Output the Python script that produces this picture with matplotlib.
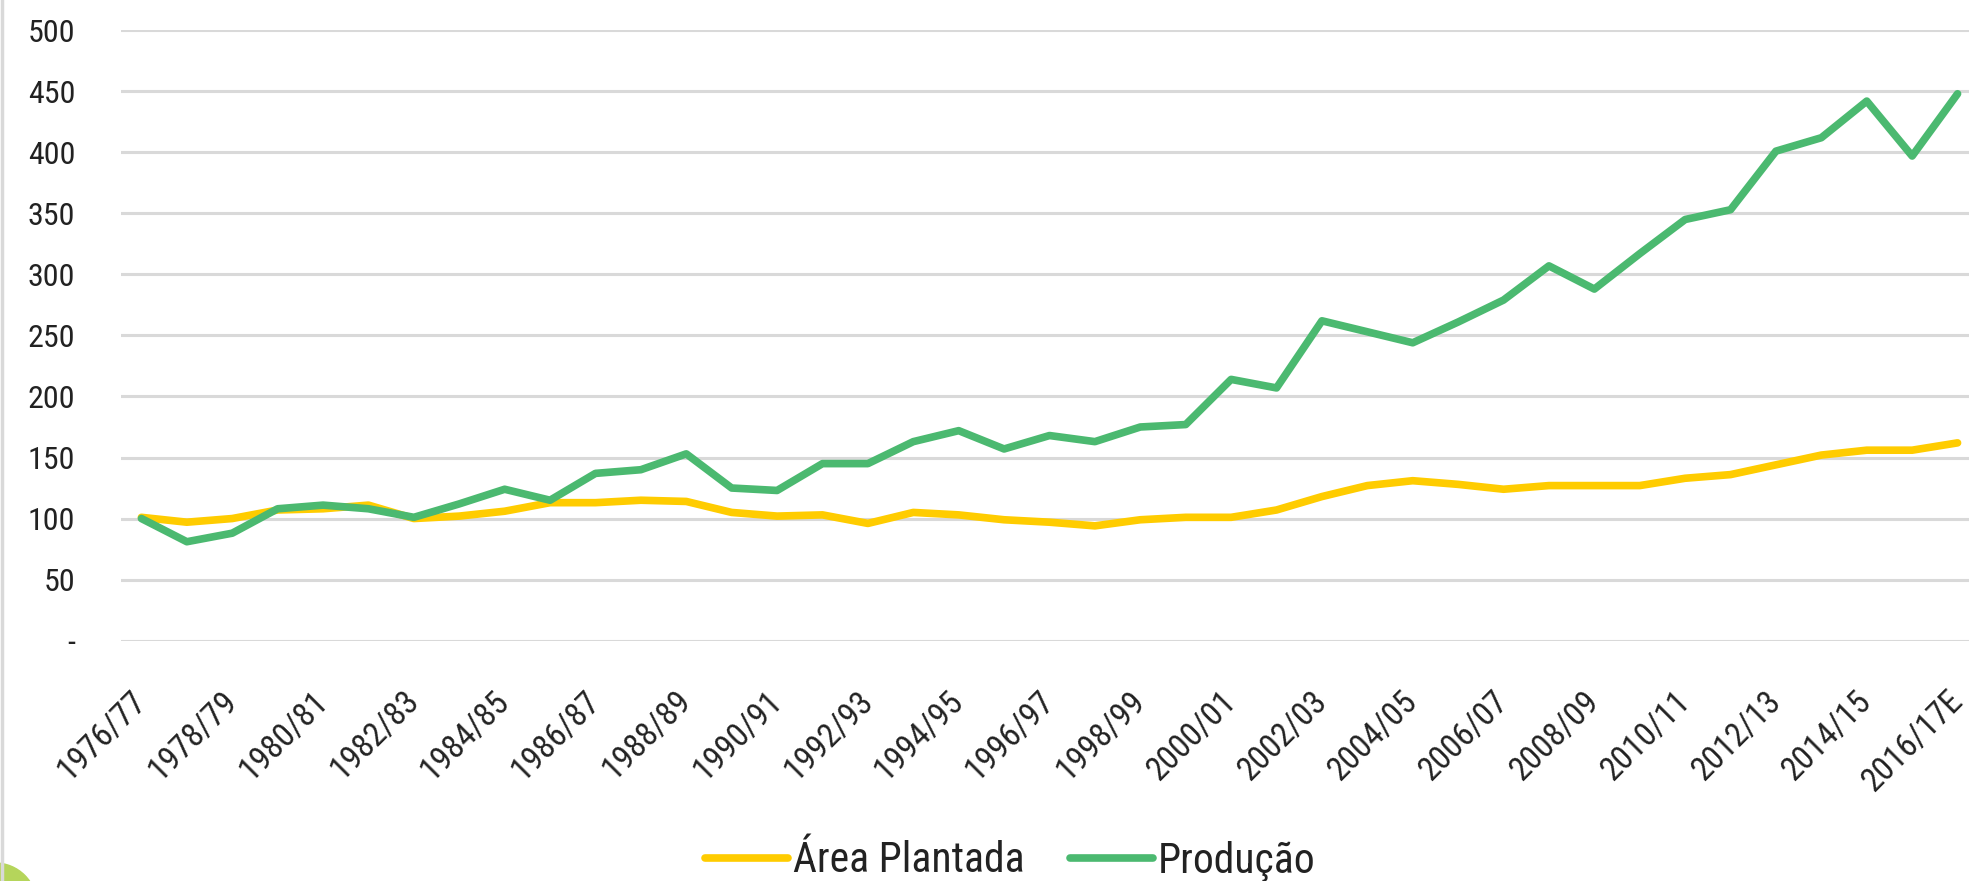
import matplotlib
matplotlib.use("Agg")
import matplotlib.pyplot as plt
from matplotlib import font_manager as fm
from matplotlib.lines import Line2D
from matplotlib.patches import Circle

# fonte estreita se houver, senão Roboto
installed = {f.name for f in fm.fontManager.ttflist}
family = [f for f in ['Roboto Condensed', 'Liberation Sans Narrow'] if f in installed] + ['Roboto', 'DejaVu Sans']
plt.rcParams['font.family'] = family

# Safras 1976/77 .. 2016/17E (índice, base 1976/77 = 100)
safras = [f"{y}/{str(y + 1)[-2:]}" for y in range(1976, 2016)] + ["2016/17E"]

area_plantada = [101, 97, 100, 107, 108, 111, 100, 102, 106, 113,
                 113, 115, 114, 105, 102, 103, 96, 105, 103, 99,
                 97, 94, 99, 101, 101, 107, 118, 127, 131, 128,
                 124, 127, 127, 127, 133, 136, 144, 152, 156, 156,
                 162]
producao = [100, 81, 88, 108, 111, 108, 101, 112, 124, 115,
            137, 140, 153, 125, 123, 145, 145, 163, 172, 157,
            168, 163, 175, 177, 214, 207, 262, 253, 244, 261,
            279, 307, 288, 317, 345, 353, 401, 412, 442, 397,
            448]

yticks = [0, 50, 100, 150, 200, 250, 300, 350, 400, 450, 500]
ytick_labels = ["-"] + [str(v) for v in yticks[1:]]

YELLOW = "#FFCC00"
GREEN = "#4BB970"
GRID = "#D9D9D9"
TXT = "#222222"

fig = plt.figure(figsize=(19.69, 8.81), dpi=100)
ax = fig.add_axes([121 / 1969, 1 - 640.6 / 881, (1978 - 121) / 1969, 610.3 / 881])

x = list(range(len(safras)))
ax.plot(x, area_plantada, color=YELLOW, lw=5.5, solid_capstyle='round', solid_joinstyle='round', zorder=3)
ax.plot(x, producao, color=GREEN, lw=5.5, solid_capstyle='round', solid_joinstyle='round', zorder=4)

ax.set_xlim(-0.45, len(safras) - 0.55)
ax.set_ylim(0, 500)
ax.set_yticks(yticks)
ax.set_yticklabels(ytick_labels)
ax.yaxis.grid(True, color=GRID, lw=2.2)
ax.set_axisbelow(True)
for s in ax.spines.values():
    s.set_visible(False)
ax.tick_params(axis='y', length=0, pad=33, labelsize=23, labelcolor=TXT)

ax.set_xticks(x[::2])
ax.set_xticklabels(safras[::2], rotation=45, ha='right', va='center', rotation_mode='anchor')
ax.tick_params(axis='x', length=0, pad=40, labelsize=24, labelcolor=TXT)

# legenda
handles = [Line2D([], [], color=YELLOW, lw=5.5, solid_capstyle='round'),
           Line2D([], [], color=GREEN, lw=5.5, solid_capstyle='round')]
fig.legend(handles, ["Área Plantada", "Produção"], loc='center',
           bbox_to_anchor=(0.513, 1 - 861 / 881), ncol=2, frameon=False,
           fontsize=30, handlelength=2.0, handletextpad=0.1, columnspacing=1.1,
           labelcolor=TXT, borderpad=0)

# bordas decorativas (linha cinza à esquerda e círculo verde no canto)
fig.add_artist(Line2D([2 / 1969, 2 / 1969], [0, 1], color=GRID, lw=2.5, transform=fig.transFigure))
fig.add_artist(Circle((-5, -24), 42, color="#B5D55B", transform=None))

fig.savefig("out.png", dpi=100)
